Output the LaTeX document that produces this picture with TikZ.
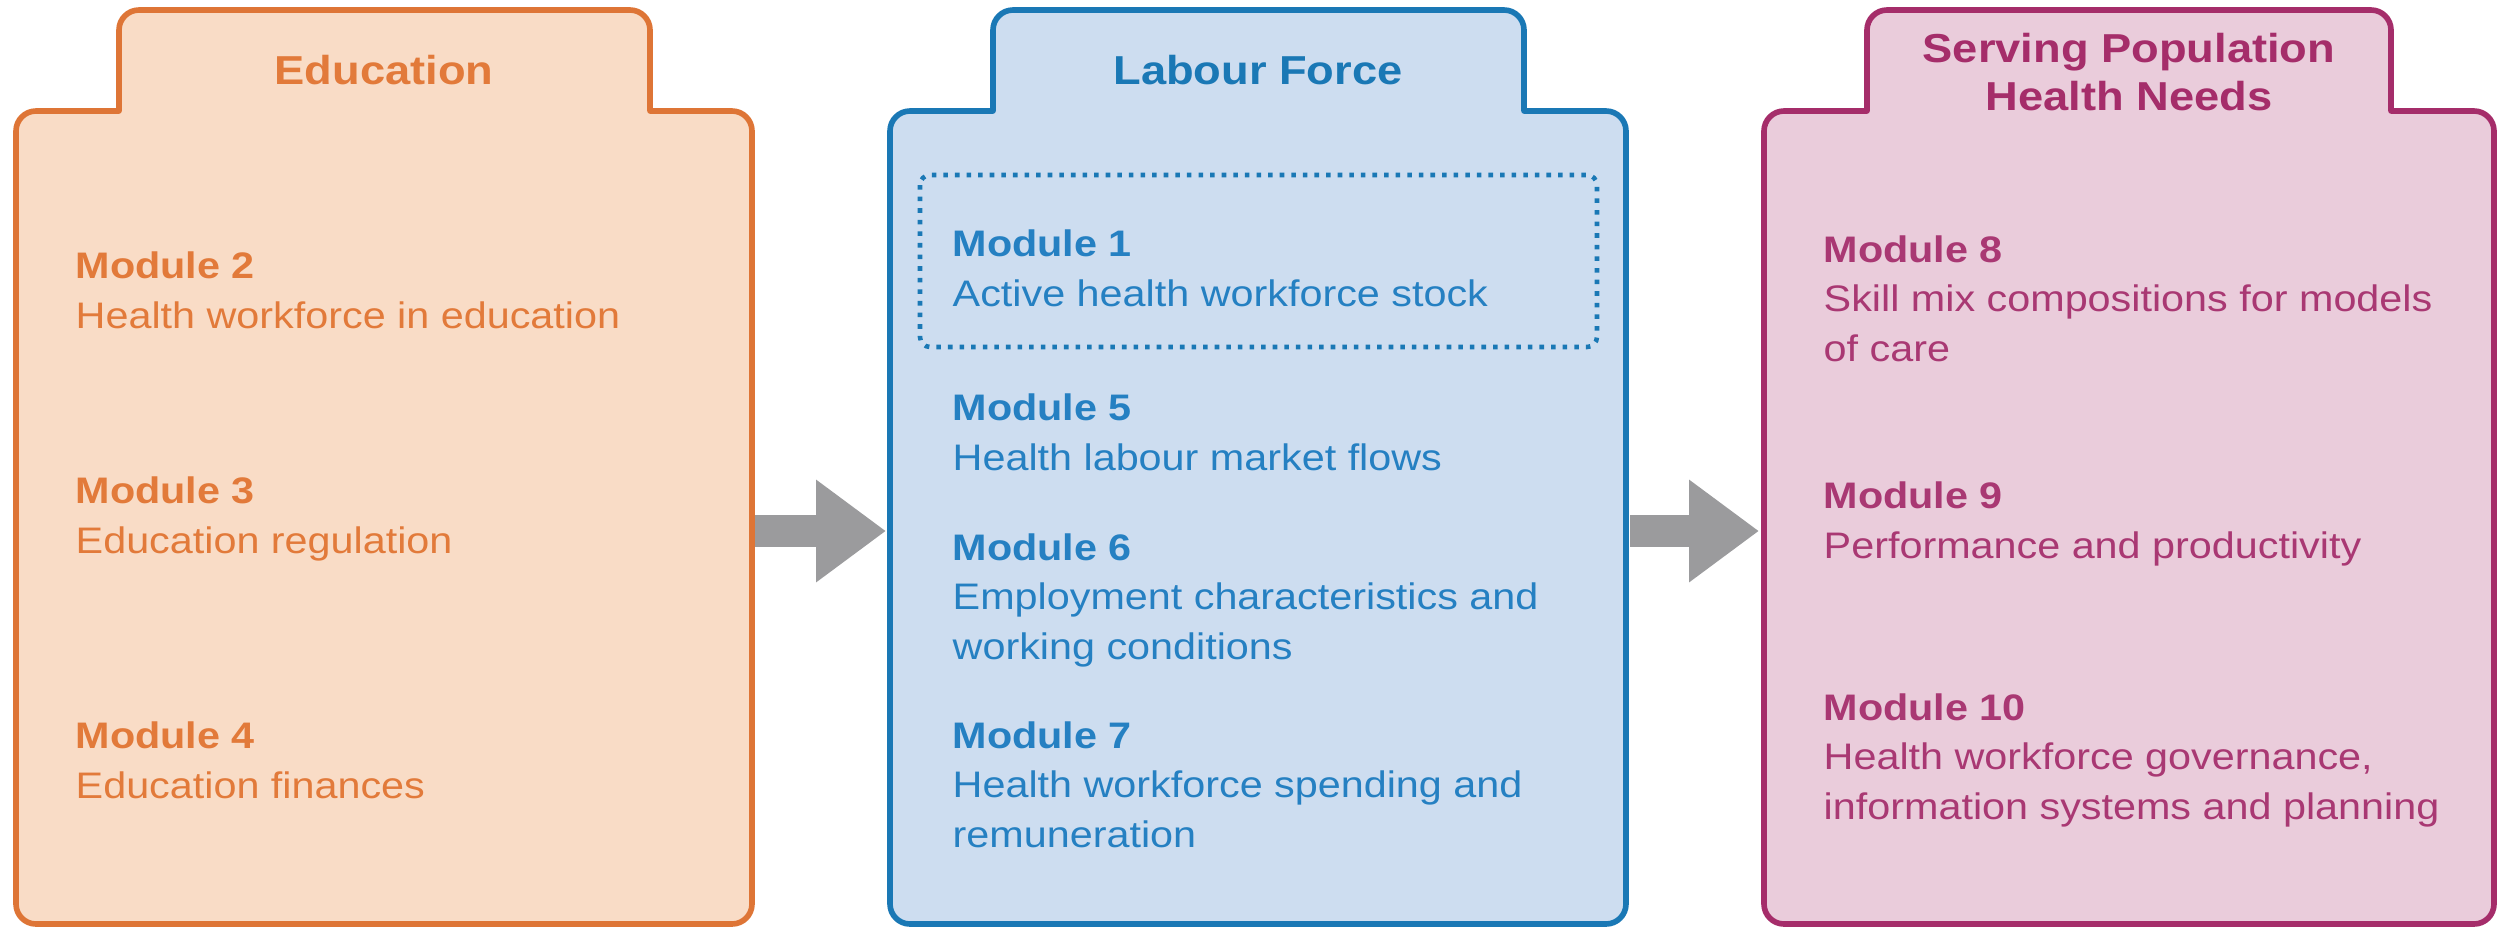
\documentclass[tikz,border=0pt]{standalone}
\usepackage{fontspec}
\setmainfont{Liberation Sans}[FakeStretch=1.12]
\usetikzlibrary{arrows.meta}
\definecolor{eduline}{HTML}{DE7536}
\definecolor{edufill}{HTML}{F9DCC6}
\definecolor{edutext}{HTML}{E27A3A}
\definecolor{labline}{HTML}{1A78B5}
\definecolor{labfill}{HTML}{CDDDF0}
\definecolor{labtext}{HTML}{2580C2}
\definecolor{servline}{HTML}{A52D6A}
\definecolor{servfill}{HTML}{EACCDB}
\definecolor{servtext}{HTML}{A93873}
\definecolor{arrowgray}{HTML}{9B9B9D}

\begin{document}
\begin{tikzpicture}[x=0.1mm,y=-0.1mm,
  box/.style={line width=1.6pt, line join=round},
  title/.style={font=\fontsize{11.5}{13.4}\selectfont\bfseries, align=center, anchor=base, inner sep=0pt},
  module/.style={font=\fontsize{10.5}{14}\selectfont, align=left, anchor=base west, inner sep=0pt},
  dotbox/.style={draw=labline, line width=1.3pt, dash pattern=on 1.3pt off 2pt, rounded corners=1mm},
  flow/.style={draw=arrowgray, line width=0.32cm, -{Triangle[length=0.7cm, width=0.98cm]}}]
  \useasboundingbox (0,0) rectangle (2497,928);

  % the three blocks: body with a tab on top
  \draw[box, draw=eduline, fill=edufill] (384,924) [rounded corners=2mm] -- (16,924) -- (16,111) [sharp corners] -- (119,111) [rounded corners=2mm] -- (119,10) -- (650,10) [sharp corners] -- (650,111) [rounded corners=2mm] -- (752,111) -- (752,924) -- cycle;
  \draw[box, draw=labline, fill=labfill] (1259,924) [rounded corners=2mm] -- (890,924) -- (890,111) [sharp corners] -- (993,111) [rounded corners=2mm] -- (993,10) -- (1524,10) [sharp corners] -- (1524,111) [rounded corners=2mm] -- (1626,111) -- (1626,924) -- cycle;
  \draw[box, draw=servline, fill=servfill] (2128,924) [rounded corners=2mm] -- (1764,924) -- (1764,111) [sharp corners] -- (1867,111) [rounded corners=2mm] -- (1867,10) -- (2391,10) [sharp corners] -- (2391,111) [rounded corners=2mm] -- (2494,111) -- (2494,924) -- cycle;

  % titles (base = last line)
  \node[title, text=edutext] (edu) at (384,84) {Education};
  \node[title, text=labline] (lab) at (1258,84) {Labour Force};
  \node[title, text=servline] (serv) at (2129,110) {Serving Population\\Health Needs};

  % education modules
  \node[module, text=edutext] (m2) at (75,328) {\textbf{Module 2}\\Health workforce in education};
  \node[module, text=edutext] (m3) at (75,553) {\textbf{Module 3}\\Education regulation};
  \node[module, text=edutext] (m4) at (75,798) {\textbf{Module 4}\\Education finances};

  % labour force modules
  \draw[dotbox] (920,175) rectangle (1597,347);
  \node[module, text=labtext] (m1) at (952,306) {\textbf{Module 1}\\Active health workforce stock};
  \node[module, text=labtext] (m5) at (952,470) {\textbf{Module 5}\\Health labour market flows};
  \node[module, text=labtext] (m6) at (952,659) {\textbf{Module 6}\\Employment characteristics and\\working conditions};
  \node[module, text=labtext] (m7) at (952,847) {\textbf{Module 7}\\Health workforce spending and\\remuneration};

  % population health modules
  \node[module, text=servtext] (m8) at (1823,361) {\textbf{Module 8}\\Skill mix compositions for models\\of care};
  \node[module, text=servtext] (m9) at (1823,558) {\textbf{Module 9}\\Performance and productivity};
  \node[module, text=servtext] (m10) at (1823,819) {\textbf{Module 10}\\Health workforce governance,\\information systems and planning};

  % flows between the blocks
  \coordinate (edu-out) at (755,531);
  \coordinate (lab-in) at (886,531);
  \coordinate (lab-out) at (1630,531);
  \coordinate (serv-in) at (1759,531);
  \draw[flow] (edu-out) -- (lab-in);
  \draw[flow] (lab-out) -- (serv-in);
\end{tikzpicture}
\end{document}
